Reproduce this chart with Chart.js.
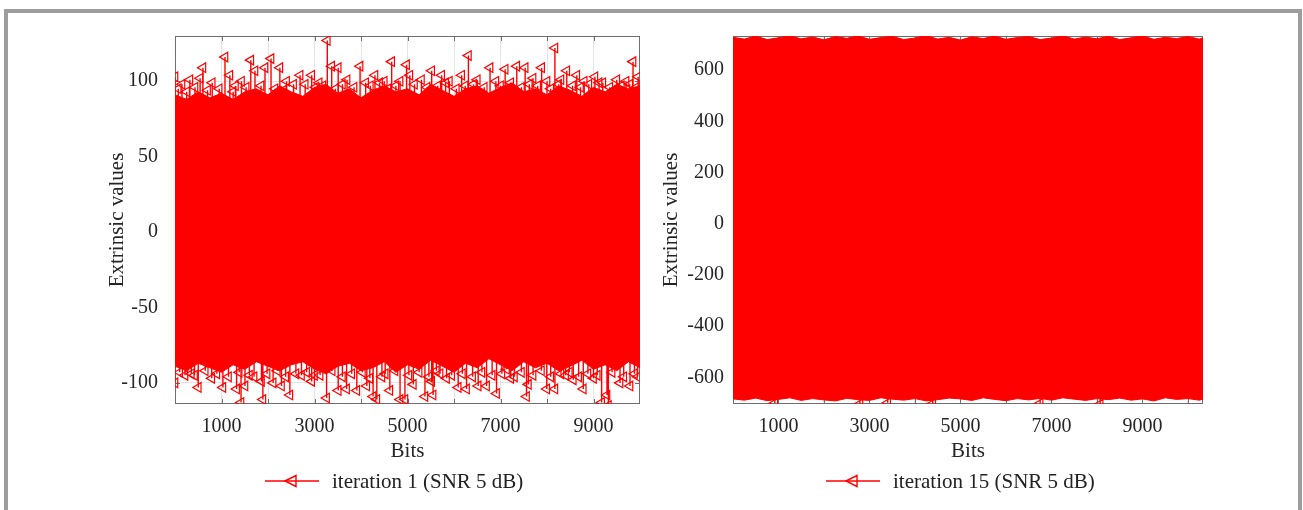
<!DOCTYPE html>
<html>
<head>
<meta charset="utf-8">
<script src="https://cdn.jsdelivr.net/npm/chart.js@4.4.1/dist/chart.umd.min.js"></script>
<style>
  html, body { margin: 0; padding: 0; background: #fff; width: 1303px; height: 510px; overflow: hidden; }
  #frame { position: absolute; left: 4px; top: 9px; width: 1290px; height: 600px; border: 4px solid #9d9d9d; }
  canvas { position: absolute; top: 0; }
  #c1 { left: 0; }
  #c2 { left: 656px; }
  .legend { position: absolute; top: 469px; height: 24px; display: flex; align-items: center;
            font-family: 'Liberation Serif', serif; font-size: 21px; color: #222; white-space: nowrap; }
  .legend svg { margin-right: 13px; }
</style>
</head>
<body>
<div id="frame"></div>
<canvas id="c1" width="660" height="510"></canvas>
<canvas id="c2" width="647" height="510"></canvas>
<div class="legend" id="legL" style="left:265px"></div>
<div class="legend" id="legR" style="left:826px"></div>

<script>
// ---- data ----
const xTickPos = [1000, 2000, 3000, 4000, 5000, 6000, 7000, 8000, 9000, 10000];
const xTickLabels = [1000, 3000, 5000, 7000, 9000];
const yTicksL = [-100, -50, 0, 50, 100];
const yTicksR = [-600, -400, -200, 0, 200, 400, 600];
const seriesL = 'iteration 1 (SNR 5 dB)';
const seriesR = 'iteration 15 (SNR 5 dB)';

// left panel: dense band outline (upper / lower edge of the solid red)
const bitsL = [0, 250, 500, 750, 1000, 1250, 1500, 1750, 2000, 2250, 2500, 2750, 3000, 3250, 3500,
  3750, 4000, 4250, 4500, 4750, 5000, 5250, 5500, 5750, 6000, 6250, 6500, 6750, 7000, 7250, 7500,
  7750, 8000, 8250, 8500, 8750, 9000, 9250, 9500, 9750, 10000];
const upperL = [91, 88, 93, 89, 92, 88, 93, 95, 91, 97, 93, 90, 96, 98, 92, 95, 89, 94, 97, 93,
  95, 91, 98, 94, 90, 95, 97, 92, 96, 99, 93, 95, 91, 97, 94, 90, 96, 93, 98, 95, 97];
const lowerL = [-89, -92, -87, -90, -93, -88, -91, -86, -89, -92, -88, -86, -91, -94, -89, -87,
  -92, -90, -86, -93, -88, -91, -85, -89, -93, -87, -90, -84, -88, -92, -86, -90, -87, -92, -89,
  -85, -91, -88, -92, -86, -90];

// left panel: outlying points (markers above / below the band)
const upBitsL = [0, 150, 320, 540, 600, 800, 1075, 1180, 1300, 1430, 1630, 1720, 1935, 2065, 2255,
  2400, 2690, 2800, 2940, 3100, 3275, 3370, 3510, 3700, 3980, 4100, 4300, 4500, 4660, 4840, 4980,
  5050, 5300, 5520, 5735, 5900, 6165, 6310, 6500, 6775, 6900, 7100, 7350, 7530, 7700, 7885, 8000,
  8170, 8300, 8425, 8640, 8800, 9030, 9200, 9500, 9700, 9850, 9960];
const upValsL = [103, 98, 101, 102, 109, 99, 116, 104, 97, 100, 114, 107, 109, 115, 109,
  100, 104, 98, 104, 99, 127, 110, 109, 101, 110, 99, 104, 100, 113, 100, 111,
  104, 101, 107, 104, 100, 104, 117, 101, 109, 100, 108, 110, 109, 102, 109, 100,
  122, 101, 107, 104, 100, 103, 99, 101, 100, 113, 103];
const dnBitsL = [0, 215, 350, 500, 790, 1030, 1325, 1420, 1505, 1700, 1860, 1890, 2110, 2290, 2470,
  2720, 2940, 3000, 3260, 3510, 3690, 3910, 4125, 4260, 4340, 4450, 4620, 4840, 4945, 5125, 5375,
  5520, 5550, 5700, 5840, 6090, 6270, 6520, 6700, 6915, 7130, 7300, 7560, 7600, 7995, 8170, 8400,
  8565, 8780, 9000, 9175, 9290, 9320, 9570, 9785, 9950];
const dnValsL = [-100, -95, -94, -103, -97, -103, -104, -113, -102, -96, -99, -111, -100, -102, -108,
  -95, -99, -95, -110, -105, -104, -105, -102, -109, -111, -96, -105, -111, -111, -101, -109,
  -99, -108, -94, -97, -103, -104, -102, -102, -107, -91, -96, -109, -101, -104, -104, -95,
  -98, -104, -97, -113, -108, -115, -100, -102, -96];

// left panel: the crowded fringe just outside the band
const upFringeBitsL = [70, 250, 430, 700, 950, 1250, 1530, 1850, 2150, 2330, 2550, 3020, 3180, 3450,
  3600, 3850, 4200, 4400, 4580, 4750, 5150, 5420, 5650, 5820, 6050, 6240, 6420, 6650, 7000, 7220,
  7450, 7620, 7800, 8080, 8250, 8550, 8720, 8900, 9120, 9350, 9600, 9780, 9920];
const upFringeValsL = [95, 93, 96, 94, 95, 93, 96, 97, 95, 94, 98, 96, 97, 95, 98, 96, 97, 99, 95,
  97, 98, 96, 97, 99, 95, 97, 98, 96, 97, 99, 96, 98, 97, 95, 98, 97, 96, 98, 99, 96, 97, 98, 96];
const dnFringeBitsL = [100, 420, 650, 900, 1150, 1380, 1600, 1980, 2200, 2380, 2600, 2830, 3120,
  3380, 3600, 3800, 4030, 4190, 4520, 4730, 5030, 5250, 5460, 5620, 5950, 6180, 6400, 6600, 6820,
  7030, 7220, 7450, 7700, 7880, 8080, 8300, 8480, 8680, 8880, 9080, 9400, 9650, 9880];
const dnFringeValsL = [-93, -95, -92, -94, -96, -93, -95, -94, -92, -96, -94, -93, -95, -92, -96,
  -94, -93, -97, -94, -92, -95, -93, -96, -92, -95, -94, -96, -93, -95, -94, -97, -93, -95, -92,
  -96, -94, -93, -96, -94, -95, -93, -96, -94];

// right panel: dense band outline
const bitsR = [0, 250, 500, 750, 1000, 1250, 1500, 1750, 2000, 2250, 2500, 2750, 3000, 3250, 3500,
  3750, 4000, 4250, 4500, 4750, 5000, 5250, 5500, 5750, 6000, 6250, 6500, 6750, 7000, 7250, 7500,
  7750, 8000, 8250, 8500, 8750, 9000, 9250, 9500, 9750, 10000, 10250, 10330];
const upperR = [728, 721, 733, 719, 726, 734, 722, 729, 718, 731, 724, 734, 720, 727, 732, 719,
  725, 735, 721, 728, 717, 730, 723, 733, 720, 727, 731, 719, 725, 734, 721, 729, 722, 732, 719,
  726, 734, 720, 728, 723, 731, 721, 726];
const lowerR = [-684, -689, -681, -691, -686, -680, -690, -683, -688, -692, -682, -687, -690, -680,
  -685, -689, -683, -692, -687, -681, -684, -690, -680, -686, -691, -683, -688, -682, -689, -680,
  -685, -690, -683, -687, -681, -689, -684, -692, -680, -686, -683, -689, -685];
const dnBitsR = [920, 2790, 3400, 4390, 6750, 8070];
const dnValsR = [-700, -703, -699, -702, -701, -704];

// ---- drawing ----
const RED = '#ff0000';
const INK = '#262626';
Chart.defaults.font.family = "'Liberation Serif', serif";
Chart.defaults.color = INK;

function bandPoints(bits, vals) {
  return bits.map((b, i) => ({x: b, y: vals[i]}));
}

// each outlier is a vertical stroke out of the band with a marker at its end
function spikePoints(bits, vals) {
  const pts = [];
  bits.forEach((b, i) => {
    pts.push({x: b, y: 0}, {x: b, y: vals[i]}, {x: b, y: 0});
  });
  return pts;
}

// MATLAB style box with inward ticks
const boxPlugin = {
  id: 'box',
  beforeDatasetsDraw(chart) {
    const {ctx, chartArea: a, scales} = chart;
    ctx.save();
    ctx.strokeStyle = '#6e6e6e';
    ctx.lineWidth = 1;
    ctx.strokeRect(a.left + 0.5, a.top + 0.5, a.right - a.left - 1, a.bottom - a.top - 1);
    ctx.beginPath();
    scales.x.ticks.forEach(t => {
      const px = Math.round(scales.x.getPixelForValue(t.value)) + 0.5;
      ctx.moveTo(px, a.top); ctx.lineTo(px, a.top + 5);
      ctx.moveTo(px, a.bottom); ctx.lineTo(px, a.bottom - 5);
    });
    scales.y.ticks.forEach(t => {
      const py = Math.round(scales.y.getPixelForValue(t.value)) + 0.5;
      ctx.moveTo(a.left, py); ctx.lineTo(a.left + 5, py);
      ctx.moveTo(a.right, py); ctx.lineTo(a.right - 5, py);
    });
    ctx.stroke();
    ctx.restore();
  }
};

function makePanel(id, p) {
  const spikeStyle = {
    borderColor: RED, borderWidth: 1.4, fill: false,
    pointStyle: 'triangle', pointRotation: -90,
    pointRadius: c => (c.raw && c.raw.y !== 0 ? 5.5 : 0),
    pointBorderColor: RED, pointBackgroundColor: 'rgba(0,0,0,0)', pointBorderWidth: 1.2
  };
  const datasets = [
    {data: bandPoints(p.bits, p.upper), borderColor: RED, backgroundColor: RED, borderWidth: 1, pointRadius: 0, fill: '+1'},
    {data: bandPoints(p.bits, p.lower), borderColor: RED, borderWidth: 1, pointRadius: 0, fill: false}
  ];
  p.spikes.forEach(s => datasets.push(Object.assign({data: spikePoints(s[0], s[1])}, spikeStyle)));

  return new Chart(document.getElementById(id), {
    type: 'line',
    data: {datasets: datasets},
    options: {
      responsive: false,
      animation: false,
      events: [],
      layout: {padding: p.padding},
      plugins: {legend: {display: false}, tooltip: {enabled: false}},
      scales: {
        x: {
          type: 'linear', min: 0, max: p.xMax,
          grid: {color: '#e4e4e4', drawTicks: false},
          border: {display: false},
          afterBuildTicks: s => { s.ticks = p.xTicks.map(v => ({value: v})); },
          ticks: {
            padding: 11, maxRotation: 0, autoSkip: false, font: {size: 20},
            callback: v => (xTickLabels.includes(v) ? String(v) : '')
          },
          title: {display: true, text: 'Bits', font: {size: 21}, padding: {top: 0, bottom: 1.6}},
          afterFit: s => { s.height = 62; }
        },
        y: {
          min: p.yMin, max: p.yMax,
          grid: {color: '#e4e4e4', drawTicks: false},
          border: {display: false},
          afterBuildTicks: s => { s.ticks = p.yTicks.map(v => ({value: v})); },
          ticks: {padding: p.yPad, font: {size: 20}},
          title: {display: true, text: 'Extrinsic values', font: {size: 21}, padding: {top: p.titlePad, bottom: 0}},
          afterFit: s => { s.width = p.yWidth; }
        }
      }
    },
    plugins: [boxPlugin]
  });
}

makePanel('c1', {
  bits: bitsL, upper: upperL, lower: lowerL,
  spikes: [[upFringeBitsL, upFringeValsL], [dnFringeBitsL, dnFringeValsL], [upBitsL, upValsL], [dnBitsL, dnValsL]],
  xMax: 10000, xTicks: xTickPos.slice(0, 9),
  yMin: -114, yMax: 130, yTicks: yTicksL,
  padding: {left: 100, right: 20, top: 36, bottom: 44},
  yWidth: 75, yPad: 17, titlePad: 4.4
});

makePanel('c2', {
  bits: bitsR, upper: upperR, lower: lowerR,
  spikes: [[dnBitsR, dnValsR]],
  xMax: 10330, xTicks: xTickPos,
  yMin: -704, yMax: 733, yTicks: yTicksR,
  padding: {left: 0, right: 100, top: 36, bottom: 44},
  yWidth: 77, yPad: 9, titlePad: 2.4
});

// legends: line with a left-pointing triangle marker
function legendSample() {
  return '<svg width="54" height="16" viewBox="0 0 54 16">' +
    '<line x1="0" y1="8" x2="54" y2="8" stroke="' + RED + '" stroke-width="1.6"/>' +
    '<polygon points="20,8 31,2.5 31,13.5" fill="none" stroke="' + RED + '" stroke-width="1.4"/></svg>';
}
document.getElementById('legL').innerHTML = legendSample() + '<span>' + seriesL + '</span>';
document.getElementById('legR').innerHTML = legendSample() + '<span>' + seriesR + '</span>';
</script>
</body>
</html>
